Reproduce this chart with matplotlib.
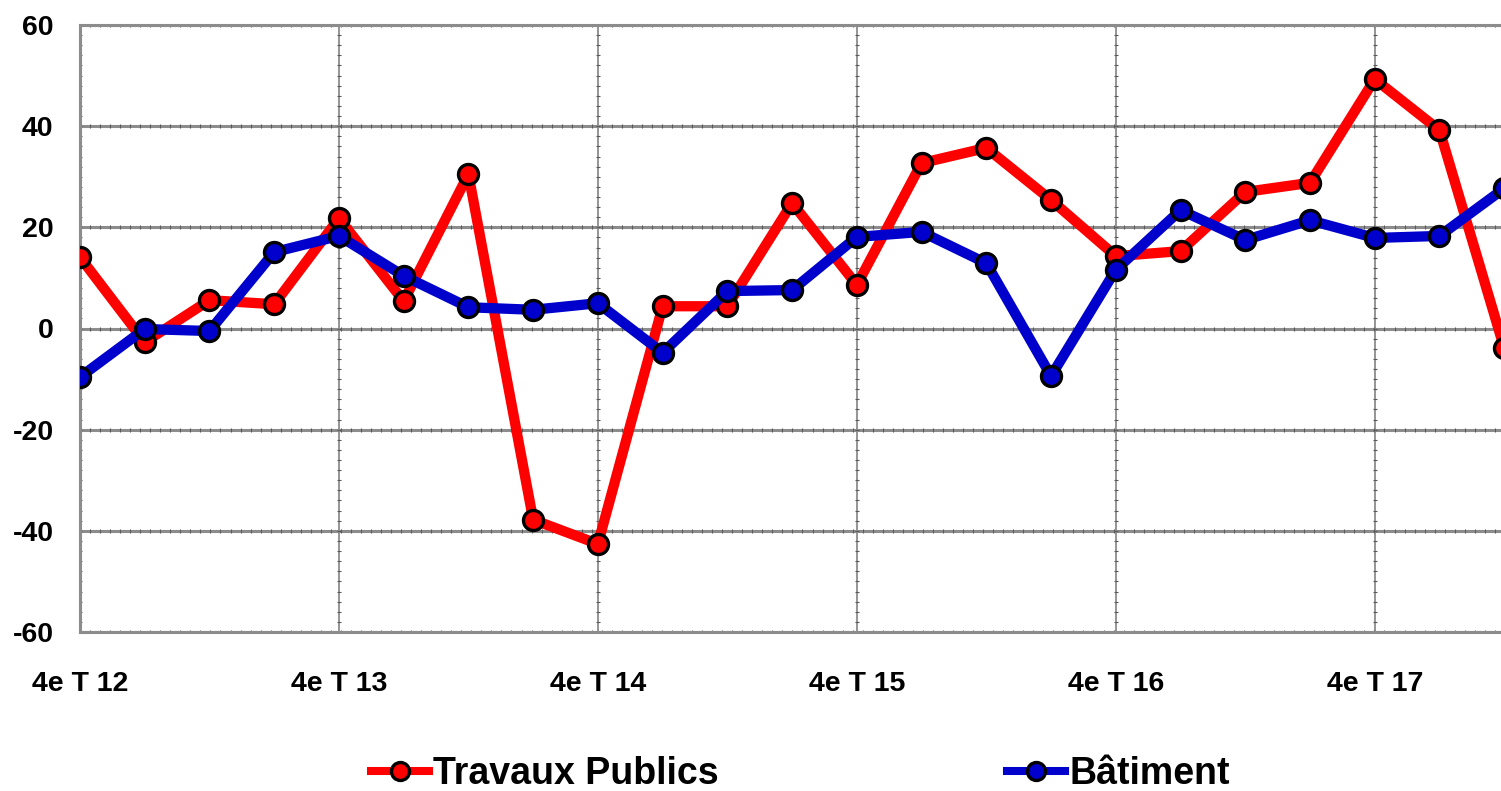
import numpy as np
import matplotlib
matplotlib.use('Agg')
from matplotlib import pyplot as plt

# quarters from 4e T 12 to 4e T 17 (+2)
years = ['4e T 12', '4e T 13', '4e T 14', '4e T 15', '4e T 16', '4e T 17']
travaux_publics = [14.1, -2.7, 5.6, 4.8, 21.8, 5.4, 30.5, -37.8, -42.6, 4.4, 4.4, 24.8,
                   8.6, 32.7, 35.7, 25.4, 14.3, 15.3, 27.0, 28.8, 49.3, 39.2, -3.9]
batiment = [-9.6, -0.1, -0.5, 15.1, 18.3, 10.4, 4.2, 3.7, 5.0, -4.8, 7.4, 7.6,
            18.1, 19.1, 12.9, -9.4, 11.6, 23.4, 17.5, 21.4, 17.9, 18.3, 27.7]
yticks = [-60, -40, -20, 0, 20, 40, 60]

plt.rcParams['font.family'] = ['Liberation Sans', 'DejaVu Sans']
plt.rcParams['font.weight'] = 'bold'

W, H = 1501, 791
fig = plt.figure(figsize=(W / 100, H / 100), dpi=100)
ax = fig.add_axes([80 / W, 1 - 632 / H, (W - 80) / W, 607 / H])

x = np.arange(len(travaux_publics))
grid_col = '#8c8c8c'

# grid lines
for v in yticks:
    ax.axhline(v, color=grid_col, lw=2.2, zorder=1)
for i in range(0, len(x), 4):
    ax.axvline(i, color=grid_col, lw=1.3, zorder=1)

# small tick marks along the grid lines
xs = np.arange(0, 22.01, 0.155)
for v in yticks:
    ax.plot(xs, np.full_like(xs, v), ls='none', marker='|', ms=3.5, mew=0.8,
            color='#5a5a5a', zorder=1)
ys = np.arange(-60, 60.01, 2)
for i in range(0, len(x), 4):
    ax.plot(np.full_like(ys, i), ys, ls='none', marker='_', ms=3.5, mew=0.8,
            color='#5a5a5a', zorder=1)

ax.plot(x, travaux_publics, color='#ff0000', lw=7.4, marker='o', ms=14.4,
        mfc='#ff0000', mec='black', mew=2.4, label='Travaux Publics', zorder=3,
        solid_joinstyle='round')
ax.plot(x, batiment, color='#0000cc', lw=7.4, marker='o', ms=14.4,
        mfc='#0000cc', mec='black', mew=2.4, label='Bâtiment', zorder=3,
        solid_joinstyle='round')

ax.set_xlim(0, 21.95)
ax.set_ylim(-60, 60)
ax.set_yticks(yticks)
ax.set_yticklabels([str(v) for v in yticks], fontsize=20.5, fontweight='bold')
ax.set_xticks(range(0, len(x), 4))
ax.set_xticklabels(years, fontsize=20.5, fontweight='bold')
ax.tick_params(axis='y', length=0, pad=19)
ax.tick_params(axis='x', length=0, pad=28)
for s in ['left', 'top', 'bottom']:
    ax.spines[s].set_color(grid_col)
    ax.spines[s].set_linewidth(2.2)
ax.spines['right'].set_visible(False)

leg = fig.legend(loc='center left', bbox_to_anchor=(371 / W, 1 - 774 / H), ncol=2,
                 frameon=False, prop={'size': 27, 'weight': 'bold'},
                 handlelength=1.55, handletextpad=0.1, columnspacing=7.7,
                 borderpad=0, borderaxespad=0, markerscale=0.9)
for h in leg.legend_handles:
    h.set_linewidth(5.8)

fig.savefig('out.png', dpi=100)
